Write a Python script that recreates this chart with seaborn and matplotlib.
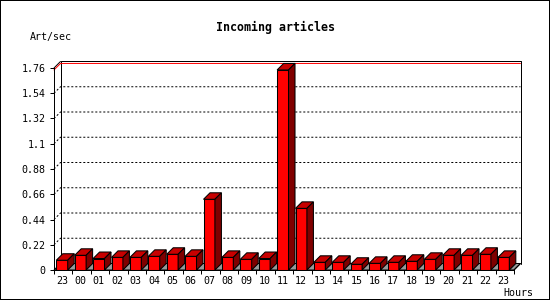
import matplotlib
matplotlib.use("Agg")
import matplotlib.pyplot as plt
import seaborn as sns
import pandas as pd
from matplotlib.patches import Polygon
from matplotlib.lines import Line2D
from matplotlib.transforms import IdentityTransform
from matplotlib.ticker import FixedLocator

# ---- data ----
hour_labels = ["23", "00", "01", "02", "03", "04", "05", "06", "07", "08", "09", "10",
               "11", "12", "13", "14", "15", "16", "17", "18", "19", "20", "21", "22", "23"]
articles_per_sec = [0.085, 0.128, 0.10, 0.11, 0.11, 0.119, 0.137, 0.119, 0.616, 0.11, 0.093, 0.10,
                    1.743, 0.537, 0.067, 0.067, 0.05, 0.058, 0.067, 0.076, 0.093, 0.128, 0.128, 0.137, 0.11]
y_ticks = [0, 0.22, 0.44, 0.66, 0.88, 1.1, 1.32, 1.54, 1.76]
y_tick_labels = ["0", "0.22", "0.44", "0.66", "0.88", "1.1", "1.32", "1.54", "1.76"]
title = "Incoming articles"
y_title = "Art/sec"
x_title = "Hours"

sns.set_theme(style="white")
plt.rcParams["font.family"] = ["DejaVu Sans Mono", "DejaVu Sans"]
plt.rcParams["lines.scale_dashes"] = False

DPI = 100
fig = plt.figure(figsize=(5.5, 3.0), dpi=DPI, facecolor="white",
                 edgecolor="black", linewidth=1.4)
ax = fig.add_axes([54 / 550, 30 / 300, 460 / 550, 202 / 300])
ax.set_facecolor("none")

df = pd.DataFrame({"slot": list(range(len(articles_per_sec))), "value": articles_per_sec})
sns.barplot(data=df, x="slot", y="value", ax=ax, color="#ff0000", saturation=1,
            width=0.62, edgecolor="black", linewidth=0.75, zorder=3)

XMIN, XMAX = -0.435, len(articles_per_sec) - 0.435
YMAX = y_ticks[-1]
ax.set_xlim(XMIN, XMAX)
ax.set_ylim(0, YMAX)

PX = 0.72  # one pixel in points
ax.set_yticks(y_ticks)
ax.set_yticklabels(y_tick_labels)
ax.set_xticks(range(len(hour_labels)))
ax.set_xticklabels(hour_labels)
ax.xaxis.set_minor_locator(FixedLocator([XMIN + i for i in range(len(hour_labels) + 1)]))
ax.tick_params(axis="x", which="major", length=0, pad=4.5, labelsize=7.2, colors="black")
ax.tick_params(axis="x", which="minor", length=4 * PX, width=PX, direction="out",
               color="black", bottom=True)
ax.tick_params(axis="y", which="major", length=4 * PX, width=PX, direction="out",
               pad=3, labelsize=7.2, colors="black", left=True)
ax.set_xlabel("")
ax.set_ylabel("")
for s in ["top", "right"]:
    ax.spines[s].set_visible(False)
for s in ["left", "bottom"]:
    ax.spines[s].set_color("black")
    ax.spines[s].set_linewidth(PX)
    ax.spines[s].set_zorder(4)

DX, DY = 6.5, 6.5
fig.canvas.draw()
T = ax.transData


def pt(x, y, back=False):
    X, Y = T.transform((x, y))
    if back:
        X += DX
        Y += DY
    return (X, Y)


def add_line(points, **kw):
    xs = [p[0] for p in points]
    ys = [p[1] for p in points]
    ln = Line2D(xs, ys, transform=IdentityTransform(), clip_on=False, **kw)
    ax.add_artist(ln)


# floor
floor = Polygon([pt(XMIN, 0), pt(XMAX, 0), pt(XMAX, 0, True), pt(XMIN, 0, True)],
                closed=True, facecolor="#999999", edgecolor="black", linewidth=PX,
                transform=IdentityTransform(), clip_on=False, zorder=1)
ax.add_artist(floor)

# dotted grid on back wall with diagonal connectors
for v in y_ticks[1:-1]:
    add_line([pt(XMIN, v), pt(XMIN, v, True), pt(XMAX, v, True)], color="black",
             linewidth=PX, linestyle=(0, (1.44, 1.44)), zorder=0.5)

# back frame
add_line([pt(XMIN, 0, True), pt(XMIN, YMAX, True), pt(XMAX, YMAX, True), pt(XMAX, 0, True)],
         color="black", linewidth=PX, zorder=1.2)
add_line([pt(XMIN, YMAX), pt(XMIN, YMAX, True)], color="black", linewidth=PX, zorder=1.2)
add_line([pt(XMAX, 0), pt(XMAX, 0, True)], color="black", linewidth=PX, zorder=1.2)

# max line
vmax = max(articles_per_sec)
add_line([pt(XMIN, vmax), pt(XMIN, vmax, True), pt(XMAX, vmax, True)], color="#ff0000",
         linewidth=PX, zorder=1.5)

# 3D top and side faces
for p in ax.patches:
    if not hasattr(p, "get_height"):
        continue
    x0 = p.get_x()
    w = p.get_width()
    h = p.get_height()
    x1 = x0 + w
    top = Polygon([pt(x0, h), pt(x1, h), pt(x1, h, True), pt(x0, h, True)], closed=True,
                  facecolor="#c80000", edgecolor="black", linewidth=0.75,
                  transform=IdentityTransform(), clip_on=False, zorder=3)
    side = Polygon([pt(x1, 0), pt(x1, 0, True), pt(x1, h, True), pt(x1, h)], closed=True,
                   facecolor="#800000", edgecolor="black", linewidth=0.75,
                   transform=IdentityTransform(), clip_on=False, zorder=3)
    ax.add_artist(top)
    ax.add_artist(side)

fig.text(275 / 550, 1 - 27 / 300, title, ha="center", va="center", fontsize=8.4,
         fontweight="bold", color="black")
fig.text(30 / 550, 1 - 37 / 300, y_title, ha="left", va="center", fontsize=7.2, color="black")
fig.text(533 / 550, 1 - 292.5 / 300, x_title, ha="right", va="center", fontsize=7.2,
         color="black")

fig.savefig("out.png", dpi=DPI, facecolor="white", edgecolor="black")
